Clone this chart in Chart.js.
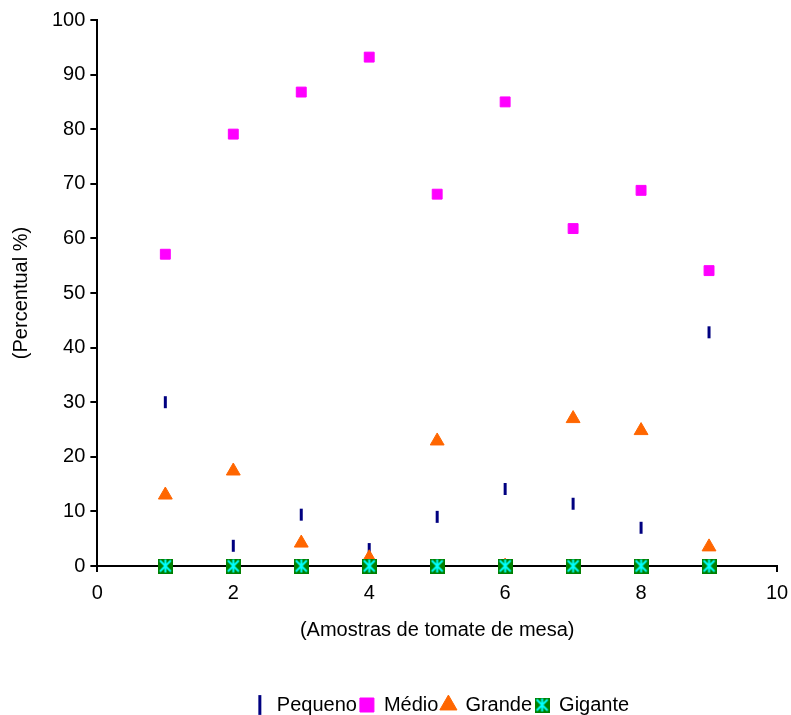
<!DOCTYPE html>
<html>
<head>
<meta charset="utf-8">
<script src="https://cdn.jsdelivr.net/npm/chart.js@4"></script>
<style>
  body { margin: 0; background: #fff; }
  #wrap { width: 791px; height: 715px; }
</style>
</head>
<body>
<div id="wrap"><canvas id="chart"></canvas></div>
<script>
// amostras
const samples = [1, 2, 3, 4, 5, 6, 7, 8, 9];
const pequeno = [30, 3.7, 9.4, 3.1, 9, 14.1, 11.4, 7, 42.8];
const medio = [57.1, 79.1, 86.8, 93.2, 68.1, 85, 61.8, 68.8, 54.1];
const grande = [13, 17.4, 4.2, 1.5, 22.9, 0, 27, 24.8, 3.5];
const gigante = [0, 0, 0, 0, 0, 0, 0, 0, 0];

const xTicks = [0, 2, 4, 6, 8, 10];
const yTicks = [0, 10, 20, 30, 40, 50, 60, 70, 80, 90, 100];

function pts(vals) {
    return samples.map((s, i) => ({ x: s, y: vals[i] }));
}

// green square with cyan star for "Gigante"
function gigMarker() {
    const c = document.createElement("canvas");
    c.width = 15; c.height = 15;
    const g = c.getContext("2d");
    g.fillStyle = "#008000";
    g.fillRect(0, 0, 15, 15);
    g.strokeStyle = "#00ffff";
    g.lineWidth = 2;
    g.beginPath();
    g.moveTo(2, 2); g.lineTo(13, 13);
    g.moveTo(13, 2); g.lineTo(2, 13);
    g.moveTo(7.5, 1); g.lineTo(7.5, 14);
    g.stroke();
    return c;
}

// legend sits a bit right of centre in the original
const legendShift = {
    id: "legendShift",
    afterLayout(chart) {
        chart.legend.left += 50;
        chart.legend.right += 50;
    }
};

Chart.defaults.font.family = "'Liberation Sans', Arial, sans-serif";
Chart.defaults.color = "#000";

new Chart(document.getElementById("chart"), {
type: "scatter",
data: {
    datasets: [
        {
            label: "Pequeno", data: pts(pequeno), order: 4, clip: false,
            pointStyle: "line", rotation: 90, radius: 6,
            borderColor: "#000080", backgroundColor: "#000080", borderWidth: 3
        },
        {
            label: "Médio", data: pts(medio), order: 3, clip: false,
            pointStyle: "rect", radius: 7,
            borderColor: "#ff00ff", backgroundColor: "#ff00ff", borderWidth: 1
        },
        {
            label: "Grande", data: pts(grande), order: 2, clip: false,
            pointStyle: "triangle", radius: 8,
            borderColor: "#ff6600", backgroundColor: "#ff6600", borderWidth: 1
        },
        {
            label: "Gigante", data: pts(gigante), order: 1, clip: false,
            pointStyle: gigMarker(), radius: 7,
            borderColor: "#008000", backgroundColor: "#008000"
        }
    ]
},
plugins: [legendShift],
options: {
    responsive: true,
    maintainAspectRatio: false,
    animation: false,
    layout: { padding: { top: 20, right: 14, left: 5, bottom: -10 } },
    scales: {
        x: {
            type: "linear", min: 0, max: 10,
            afterBuildTicks: ax => { ax.ticks = xTicks.map(v => ({ value: v })); },
            afterFit: ax => { ax.paddingRight = 0; },
            grid: { drawOnChartArea: false, color: "#000", lineWidth: 2, tickLength: 6 },
            border: { color: "#000", width: 2 },
            ticks: { font: { size: 20 }, padding: 9 },
            title: { display: true, text: "(Amostras de tomate de mesa)", font: { size: 20 }, padding: { top: 4, bottom: 50 } }
        },
        y: {
            min: 0, max: 100,
            afterBuildTicks: ax => { ax.ticks = yTicks.map(v => ({ value: v })); },
            grid: { drawOnChartArea: false, color: "#000", lineWidth: 2, tickLength: 7 },
            border: { color: "#000", width: 2 },
            ticks: { font: { size: 20 }, padding: 5 },
            title: { display: true, text: "(Percentual %)", font: { size: 20 }, padding: { bottom: 14 } }
        }
    },
    plugins: {
        legend: {
            position: "bottom",
            labels: {
                usePointStyle: true, boxWidth: 14, boxHeight: 14, padding: 3,
                font: { size: 20 },
                sort: (a, b) => a.datasetIndex - b.datasetIndex
            }
        },
        tooltip: { enabled: false }
    }
}
});
</script>
</body>
</html>
